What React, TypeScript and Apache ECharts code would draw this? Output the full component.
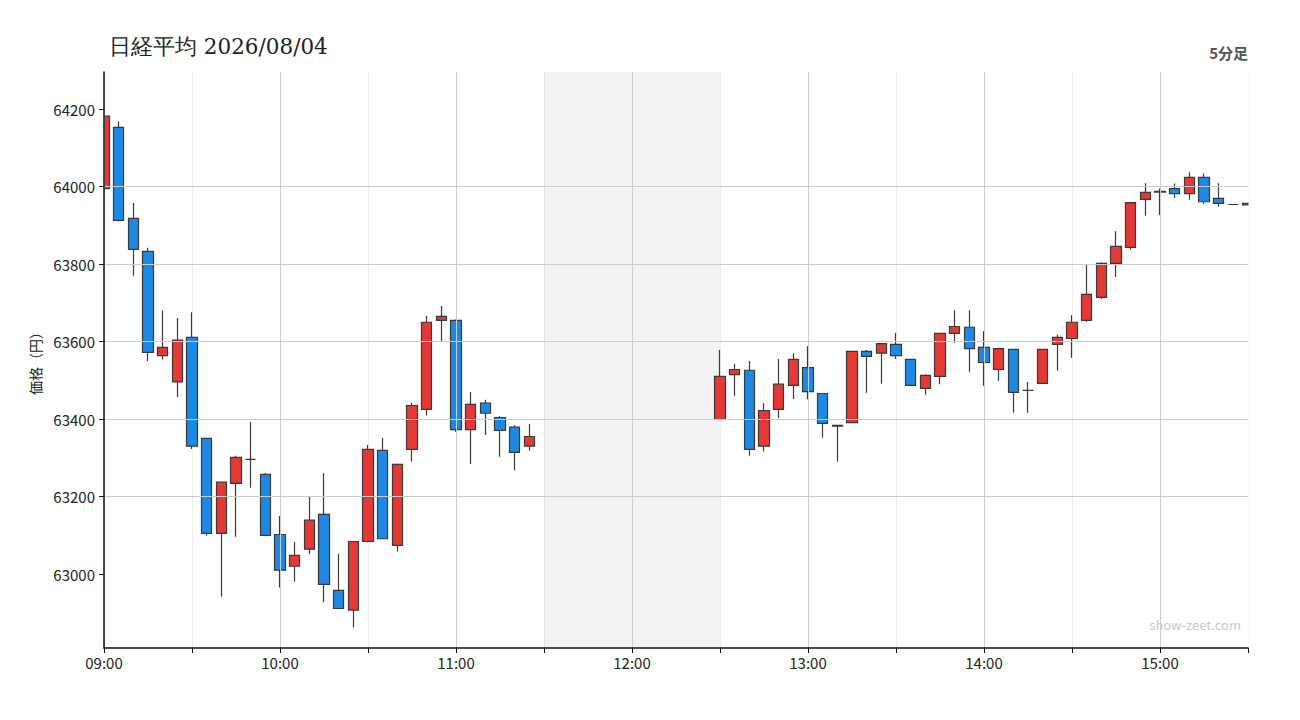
import * as echarts from "echarts";
import { useEffect, useRef } from "react";

// 5-minute bars, [open, close, low, high]
const morningBars = [
  [63995, 64182, 63890, 64185],
  [64153, 63913, 63910, 64169],
  [63918, 63838, 63770, 63958],
  [63833, 63572, 63550, 63842],
  [63564, 63585, 63554, 63680],
  [63496, 63604, 63457, 63661],
  [63611, 63330, 63323, 63676],
  [63350, 63105, 63099, 63352],
  [63105, 63237, 62941, 63239],
  [63234, 63301, 63096, 63305],
  [63296, 63296, 63223, 63393],
  [63257, 63100, 63098, 63260],
  [63102, 63010, 62965, 63150],
  [63020, 63048, 62980, 63083],
  [63064, 63139, 63051, 63201],
  [63154, 62973, 62927, 63261],
  [62958, 62911, 62909, 63052],
  [62907, 63084, 62862, 63085],
  [63084, 63322, 63082, 63333],
  [63319, 63091, 63090, 63352],
  [63074, 63283, 63058, 63285],
  [63322, 63435, 63290, 63442],
  [63425, 63650, 63409, 63666],
  [63655, 63665, 63599, 63692],
  [63655, 63373, 63367, 63657],
  [63373, 63438, 63284, 63470],
  [63441, 63415, 63359, 63450],
  [63404, 63371, 63303, 63408],
  [63379, 63314, 63268, 63384],
  [63330, 63355, 63318, 63387],
];

const afternoonBars = [
  [63399, 63510, 63399, 63578],
  [63515, 63528, 63460, 63542],
  [63526, 63322, 63305, 63550],
  [63330, 63422, 63316, 63441],
  [63425, 63490, 63403, 63555],
  [63487, 63554, 63452, 63570],
  [63533, 63471, 63451, 63588],
  [63466, 63389, 63352, 63467],
  [63384, 63382, 63290, 63385],
  [63391, 63575, 63390, 63576],
  [63575, 63562, 63468, 63578],
  [63570, 63595, 63491, 63596],
  [63593, 63564, 63555, 63622],
  [63554, 63487, 63486, 63555],
  [63479, 63513, 63463, 63516],
  [63510, 63621, 63490, 63622],
  [63621, 63639, 63597, 63681],
  [63637, 63582, 63522, 63681],
  [63585, 63546, 63486, 63627],
  [63528, 63582, 63499, 63585],
  [63580, 63469, 63416, 63581],
  [63474, 63474, 63416, 63496],
  [63492, 63580, 63491, 63581],
  [63593, 63611, 63525, 63618],
  [63608, 63650, 63558, 63668],
  [63655, 63722, 63651, 63800],
  [63714, 63802, 63710, 63805],
  [63802, 63846, 63767, 63885],
  [63843, 63959, 63838, 63960],
  [63967, 63985, 63925, 64009],
  [63988, 63986, 63927, 63995],
  [63995, 63982, 63971, 64008],
  [63982, 64024, 63966, 64037],
  [64024, 63961, 63956, 64034],
  [63970, 63957, 63948, 64009],
  [63954, 63954, 63954, 63954],
  [63953, 63957, 63953, 63957],
];

const lunchSlots = 12; // 11:30 - 12:25, no trading
const priceTicks = [63000, 63200, 63400, 63600, 63800, 64000, 64200];

const times: string[] = [];
for (let m = 9 * 60; m <= 15 * 60 + 30; m += 5) {
  const h = String(Math.floor(m / 60)).padStart(2, "0");
  times.push(h + ":" + String(m % 60).padStart(2, "0"));
}

const bars = [
  ...morningBars,
  ...Array.from({ length: lunchSlots }, () => ["-", "-", "-", "-"]),
  ...afternoonBars,
];

const labelFont = "'Noto Sans CJK JP', 'Noto Sans', sans-serif";
const GRID = { left: 104, right: 52, top: 72, bottom: 72 };

export default function App() {
  const chartRef = useRef<HTMLDivElement>(null);

  useEffect(() => {
    if (!chartRef.current) return;
    const chart = echarts.init(chartRef.current, undefined, { renderer: "svg" });
    const W = 1300;
    const H = 720;

    const option: echarts.EChartsOption = {
      animation: false,
      backgroundColor: "#fff",
      title: {
        text: "日経平均 2026/08/04",
        left: 104,
        top: 30,
        textStyle: {
          fontFamily: "'DejaVu Serif', serif",
          fontSize: 21.5,
          fontWeight: "normal",
          color: "#222",
        },
      },
      graphic: [
        {
          type: "text",
          right: 52,
          top: 45,
          style: {
            text: "5分足",
            fontSize: 15,
            fontWeight: "bold",
            fill: "#555",
            fontFamily: labelFont,
          },
        },
        {
          type: "text",
          right: 59,
          top: 618,
          style: {
            text: "show-zeet.com",
            fontSize: 13,
            fill: "#c8c8c8",
            fontFamily: labelFont,
          },
        },
        // masks: candles are cut at the plot edges
        {
          type: "rect",
          z: 5,
          silent: true,
          shape: { x: GRID.left - 10, y: GRID.top, width: 10, height: H - GRID.top - GRID.bottom },
          style: { fill: "#fff" },
        },
        {
          type: "rect",
          z: 5,
          silent: true,
          shape: { x: W - GRID.right + 0.5, y: GRID.top, width: 10, height: H - GRID.top - GRID.bottom },
          style: { fill: "#fff" },
        },
      ],
      grid: GRID,
      xAxis: [
        {
          type: "category",
          data: times,
          boundaryGap: false,
          z: 10,
          axisLine: { lineStyle: { color: "#111", width: 1.5 } },
          axisTick: {
            length: 5,
            interval: (i: number) => i % 6 === 0,
            lineStyle: { color: "#111" },
          },
          axisLabel: {
            interval: (i: number) => i % 12 === 0,
            color: "#222",
            fontSize: 15,
            margin: 7,
            fontFamily: labelFont,
          },
          splitLine: {
            show: true,
            interval: (i: number) => i % 12 === 0,
            lineStyle: { color: "#cccccc" },
          },
        },
        {
          type: "category",
          data: times,
          boundaryGap: false,
          position: "bottom",
          axisLine: { show: false },
          axisTick: { show: false },
          axisLabel: { show: false },
          splitLine: {
            show: true,
            interval: (i: number) => i % 12 === 6,
            lineStyle: { color: "#f0f0f0" },
          },
        },
      ],
      yAxis: {
        type: "value",
        min: 62809,
        max: 64296,
        splitNumber: 7,
        z: 10,
        name: "価格（円）",
        nameLocation: "middle",
        nameGap: 62,
        nameRotate: 90,
        nameTextStyle: { color: "#222", fontSize: 14, fontFamily: labelFont },
        axisLine: { show: true, lineStyle: { color: "#111", width: 1.5 } },
        axisTick: {
          show: true,
          length: 5,
          customValues: priceTicks,
          lineStyle: { color: "#111" },
        },
        axisLabel: {
          customValues: priceTicks,
          formatter: (v: number) => String(v),
          color: "#222",
          fontSize: 15,
          margin: 9,
          fontFamily: labelFont,
        },
        splitLine: {
          show: true,
          showMinLine: false,
          showMaxLine: false,
          lineStyle: { color: "#cccccc" },
        },
      },
      series: [
        {
          type: "candlestick",
          xAxisIndex: 0,
          data: bars,
          barWidth: 11,
          itemStyle: {
            color: "#e53935",
            color0: "#1e88e5",
            borderColor: "#3a3a3a",
            borderColor0: "#3a3a3a",
            borderColorDoji: "#3a3a3a",
            borderWidth: 1.2,
          },
          markArea: {
            silent: true,
            itemStyle: { color: "rgba(0,0,0,0.047)" },
            data: [[{ xAxis: "11:30" }, { xAxis: "12:30" }]],
          },
        },
      ],
    };

    chart.setOption(option);
    return () => chart.dispose();
  }, []);

  return (
    <div
      ref={chartRef}
      style={{ position: "fixed", left: 0, top: 0, width: 1300, height: 720 }}
    />
  );
}
